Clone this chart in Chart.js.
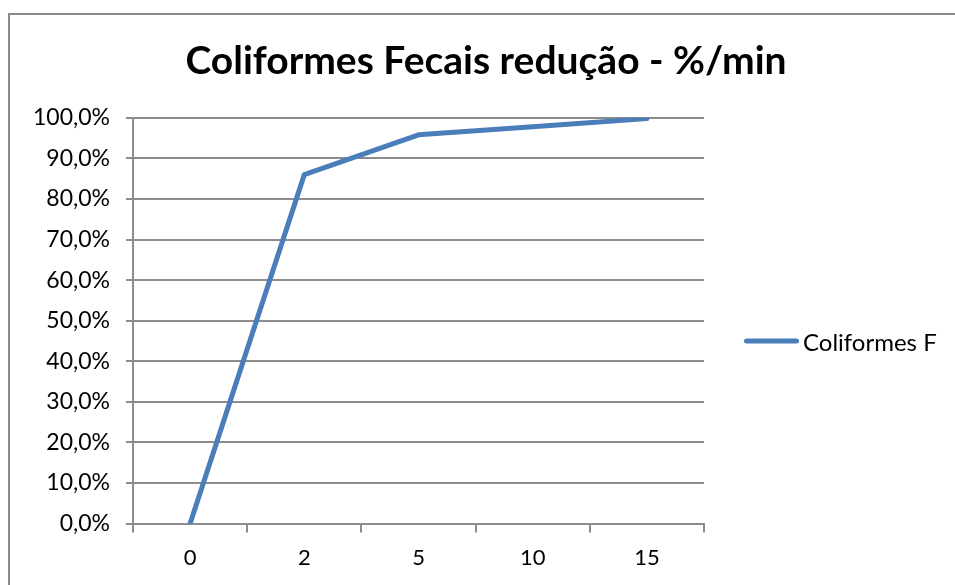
<!DOCTYPE html>
<html>
<head>
<meta charset="utf-8">
<script src="https://cdn.jsdelivr.net/npm/chart.js@4"></script>
<style>
  html, body { margin: 0; padding: 0; background: #fff; overflow: hidden; }
  #wrap { position: relative; width: 955px; height: 585px; overflow: hidden; }
  .edge { position: absolute; background: #8a8a8a; }
  #edgeTop { left: 8px; top: 13px; width: 2000px; height: 2px; }
  #edgeLeft { left: 8px; top: 13px; width: 2px; height: 1000px; }
  #salesChart { position: absolute; left: 0; top: 0; }
  #legend { position: absolute; left: 744px; top: 341px; transform: translateY(-50%);
            font-family: Lato, 'Open Sans', sans-serif; font-size: 24px; color: #000; }
  .legend-item { display: flex; align-items: center; white-space: nowrap; }
  .legend-line { display: inline-block; width: 55px; height: 5px; border-radius: 3px; margin-right: 4px; }
</style>
</head>
<body>
<div id="wrap">
  <div class="edge" id="edgeTop"></div>
  <div class="edge" id="edgeLeft"></div>
  <canvas id="salesChart" width="955" height="585"></canvas>
  <div id="legend"></div>
</div>
<script>
const minutes = ["0", "2", "5", "10", "15"];
const reducao = [0.0, 86.0, 95.8, 97.8, 99.8];
const yTicks = [0, 10, 20, 30, 40, 50, 60, 70, 80, 90, 100];

const lineColor = "rgb(74, 126, 187)";
const gridColor = "#8c8c8c";
const fontFamily = "Lato, 'Open Sans', sans-serif";

const ctx = document.getElementById("salesChart").getContext("2d");
const chart = new Chart(ctx, {
    type: "line",
    data: {
        labels: minutes,
        datasets: [{
            label: "Coliformes F",
            data: reducao,
            borderColor: lineColor,
            backgroundColor: lineColor,
            borderWidth: 5,
            pointRadius: 0,
            tension: 0,
            borderCapStyle: "round",
            borderJoinStyle: "round"
        }]
    },
    options: {
        responsive: false,
        animation: false,
        layout: { padding: { left: 17, right: 0, top: 0, bottom: 2 } },
        plugins: {
            title: {
                display: true,
                text: "Coliformes Fecais redução - %/min",
                color: "#000",
                font: { family: fontFamily, size: 39, weight: "bold" },
                padding: { top: 38, bottom: 33 }
            },
            legend: { display: false },
            tooltip: { enabled: false }
        },
        scales: {
            x: {
                offset: true,
                grid: {
                    offset: true,
                    drawOnChartArea: false,
                    drawTicks: true,
                    tickLength: 9,
                    color: gridColor,
                    lineWidth: 2
                },
                border: { color: gridColor, width: 2 },
                ticks: {
                    color: "#000",
                    font: { family: fontFamily, size: 22 },
                    padding: 12
                }
            },
            y: {
                min: 0,
                max: 100,
                afterBuildTicks: axis => {
                    axis.ticks = yTicks.map(v => ({ value: v }));
                },
                grid: {
                    color: gridColor,
                    lineWidth: 2,
                    tickLength: 7
                },
                border: { color: gridColor, width: 2 },
                ticks: {
                    color: "#000",
                    font: { family: fontFamily, size: 23 },
                    padding: 16,
                    callback: v => v.toFixed(1).replace(".", ",") + "%"
                }
            },
            // espaço reservado à direita para a legenda
            legendSpace: {
                type: "linear",
                position: "right",
                display: true,
                grid: { display: false },
                border: { display: false },
                ticks: { display: false },
                afterFit: scale => { scale.width = 251; }
            }
        }
    }
});

// legenda em HTML a partir dos datasets
const legendEl = document.getElementById("legend");
chart.data.datasets.forEach(ds => {
    const item = document.createElement("div");
    item.className = "legend-item";
    const line = document.createElement("span");
    line.className = "legend-line";
    line.style.background = ds.borderColor;
    const text = document.createElement("span");
    text.textContent = ds.label;
    item.appendChild(line);
    item.appendChild(text);
    legendEl.appendChild(item);
});
</script>
</body>
</html>
